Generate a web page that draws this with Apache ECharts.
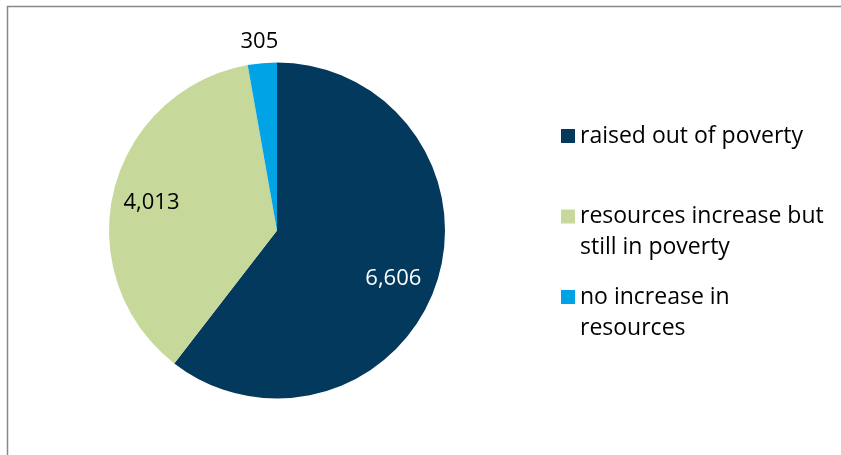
<!DOCTYPE html>
<html>
<head>
<meta charset="utf-8">
<script src="https://cdn.jsdelivr.net/npm/echarts@6/dist/echarts.min.js"></script>
<style>
  html, body { margin: 0; padding: 0; background: #fff; }
  #chart { width: 841px; height: 455px; }
</style>
</head>
<body>
<div id="chart"></div>
<script>
// Outcome categories and counts
const categories = [
  'raised out of poverty',
  'resources increase but\nstill in poverty',
  'no increase in\nresources'
];
const values = [6606, 4013, 305];
const colors = ['#03395C', '#C6D99A', '#00A3E6'];

// Label appearance per slice
const labelColors = ['#ffffff', '#000000', '#000000'];
const labelShift = [[34, 20], [-41, -7], [-10, -102]];

// Legend row placement (vertical centre of each swatch)
const legendCentres = [136, 216.5, 297];
const lineH = 31;

const FONT = '"Open Sans", "Noto Sans", sans-serif';

const chart = echarts.init(document.getElementById('chart'));

// One legend per entry so each swatch sits beside the first line of its text.
// A leading blank line keeps the first text line centred on the swatch.
const legends = categories.map((name, i) => {
  const twoLines = name.indexOf('\n') >= 0;
  const top = twoLines ? legendCentres[i] - lineH * 1.5 : legendCentres[i] - lineH / 2;
  return {
    orient: 'vertical',
    left: 561,
    top: top,
    padding: 0,
    itemWidth: 14,
    itemHeight: 14,
    icon: 'rect',
    selectedMode: false,
    data: [name],
    formatter: n => (n.indexOf('\n') >= 0 ? '\n' + n : n),
    textStyle: {
      fontFamily: FONT,
      fontSize: 23,
      color: '#000000',
      lineHeight: lineH
    }
  };
});

chart.setOption({
  animation: false,
  color: colors,
  legend: legends,
  graphic: [{
    type: 'rect',
    silent: true,
    shape: { x: 7.5, y: 6.5, width: 1200, height: 1200 },
    style: { fill: null, stroke: '#888888', lineWidth: 1.5 }
  }],
  series: [{
    type: 'pie',
    center: [277, 230.5],
    radius: [0, 168],
    startAngle: 90,
    clockwise: true,
    avoidLabelOverlap: false,
    itemStyle: { borderWidth: 0 },
    emphasis: { disabled: true },
    label: {
      show: true,
      position: 'inner',
      fontFamily: FONT,
      fontSize: 22,
      formatter: p => p.value.toLocaleString('en-US')
    },
    labelLine: { show: false },
    labelLayout: p => ({ dx: labelShift[p.dataIndex][0], dy: labelShift[p.dataIndex][1] }),
    data: categories.map((name, i) => ({
      name: name,
      value: values[i],
      itemStyle: { color: colors[i] },
      label: { color: labelColors[i] }
    }))
  }]
});
</script>
</body>
</html>
